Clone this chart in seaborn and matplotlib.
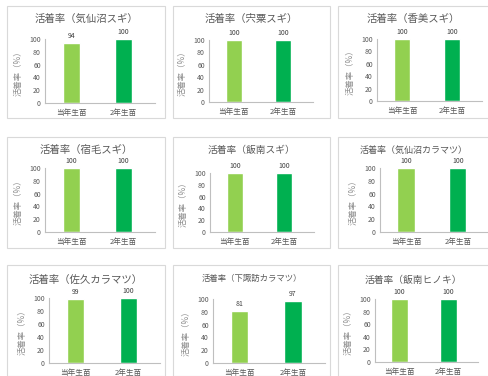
import matplotlib
matplotlib.use("Agg")
import matplotlib.pyplot as plt
import seaborn as sns
import pandas as pd
from matplotlib.patches import Rectangle

sns.set_theme(style="white")
plt.rcParams['font.family'] = ['Noto Sans CJK JP', 'DejaVu Sans']

titles = ["活着率（気仙沼スギ）", "活着率（宍粟スギ）", "活着率（香美スギ）",
          "活着率（宿毛スギ）", "活着率（飯南スギ）", "活着率（気仙沼カラマツ）",
          "活着率（佐久カラマツ）", "活着率（下諏訪カラマツ）", "活着率（飯南ヒノキ）"]
categories = ["当年生苗", "2年生苗"]
values = [[94, 100], [100, 100], [100, 100],
          [100, 100], [100, 100], [100, 100],
          [99, 100], [81, 97], [100, 100]]
yticks = [0, 20, 40, 60, 80, 100]
ylabel = "活着率（%）"
colors = ["#92D050", "#00B050"]

W, H = 489, 376
fig = plt.figure(figsize=(W / 100, H / 100), dpi=100)

# panel boxes (x0, x1, y0, y1) in pixels from top-left
boxes = [(7, 165, 6, 118), (173, 330, 6, 118), (338, 489, 6, 118),
         (7, 165, 137, 248), (173, 330, 137, 248), (338, 489, 137, 248),
         (7, 165, 265, 376), (173, 330, 265, 376), (338, 489, 265, 376)]
# axes (x_left, x_right, y_top, y_bottom)
axes_px = [(45, 155, 39, 103), (209, 313, 40, 102), (377, 482, 39, 101),
           (45, 155, 168, 232), (210, 314, 173, 232), (380, 489, 168, 232),
           (49, 160, 298, 363), (213, 325, 299, 363), (375, 478, 299, 362)]
title_y = [19, 19, 19, 150, 150, 150, 280, 278, 280]
title_fs = [7.5, 7.5, 7.5, 7.5, 7, 6.5, 7.5, 6, 7]

for i in range(9):
    bx0, bx1, by0, by1 = boxes[i]
    fig.patches.append(Rectangle((bx0 / W, 1 - by1 / H), (bx1 - bx0) / W, (by1 - by0) / H,
                                 transform=fig.transFigure, fill=False,
                                 edgecolor="#D9D9D9", linewidth=0.8))
    xl, xr, yt, yb = axes_px[i]
    ax = fig.add_axes([xl / W, 1 - yb / H, (xr - xl) / W, (yb - yt) / H])
    df = pd.DataFrame({"cat": categories, "val": values[i]})
    sns.barplot(data=df, x="cat", y="val", hue="cat", palette=colors,
                width=0.33, saturation=1, legend=False, ax=ax)
    ax.set_ylim(0, 100)
    ax.set_xlim(-0.5, 1.6)
    ax.set_yticks(yticks)
    ax.tick_params(axis="y", length=0, labelsize=5, colors="#595959", pad=3)
    ax.tick_params(axis="x", length=0, labelsize=5.5, colors="#595959", pad=4)
    ax.set_xlabel("")
    ax.set_ylabel(ylabel, fontsize=6, color="#8C8C8C", labelpad=5)
    for s in ["top", "right"]:
        ax.spines[s].set_visible(False)
    for s in ["left", "bottom"]:
        ax.spines[s].set_color("#BFBFBF")
        ax.spines[s].set_linewidth(0.8)
    for c in ax.containers:
        ax.bar_label(c, fontsize=5, color="#404040", padding=2, clip_on=False)
    fig.text((bx0 + bx1) / 2 / W, 1 - title_y[i] / H, titles[i], ha="center", va="center",
             fontsize=title_fs[i], color="#595959")

fig.savefig("out.png", dpi=100)
